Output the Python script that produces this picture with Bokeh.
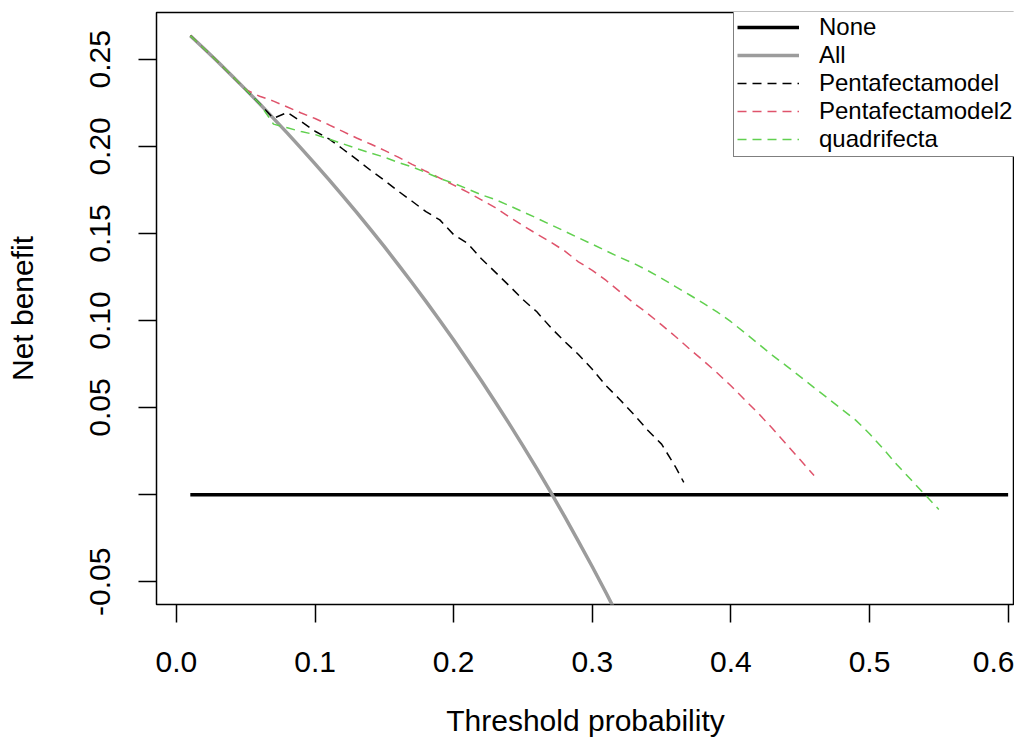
from bokeh.plotting import figure
from bokeh.models import Range1d, FixedTicker, Legend, LegendItem, PrintfTickFormatter
from bokeh.embed import file_html
from bokeh.resources import INLINE

# ---------------- data ----------------
none_t = [0.01, 0.60]
none_nb = [0.0, 0.0]

all_t = [0.01, 0.02, 0.03, 0.04, 0.05, 0.06, 0.07, 0.08, 0.09, 0.10,
         0.11, 0.12, 0.13, 0.14, 0.15, 0.16, 0.17, 0.18, 0.19, 0.20,
         0.21, 0.22, 0.23, 0.24, 0.25, 0.26, 0.27, 0.28, 0.29, 0.30,
         0.31, 0.32]
all_nb = [0.2636, 0.2561, 0.2485, 0.2406, 0.2326, 0.2245, 0.2161, 0.2076, 0.1989, 0.1900,
          0.1809, 0.1716, 0.1621, 0.1523, 0.1424, 0.1321, 0.1217, 0.1110, 0.1000, 0.0888,
          0.0772, 0.0654, 0.0532, 0.0408, 0.0280, 0.0149, 0.0014, -0.0125, -0.0268, -0.0414,
          -0.0565, -0.0721]

penta_t = [0.01, 0.02, 0.03, 0.04, 0.05, 0.06, 0.07, 0.08, 0.09, 0.10,
           0.11, 0.12, 0.13, 0.14, 0.15, 0.16, 0.17, 0.18, 0.19, 0.20,
           0.21, 0.22, 0.23, 0.24, 0.25, 0.26, 0.27, 0.28, 0.29, 0.30,
           0.31, 0.32, 0.33, 0.34, 0.35, 0.36, 0.366]
penta_nb = [0.2636, 0.2561, 0.2485, 0.2406, 0.2326, 0.2245, 0.2161, 0.2195, 0.2143, 0.2087,
            0.2043, 0.1985, 0.1925, 0.1863, 0.1805, 0.1743, 0.1685, 0.1625, 0.1578, 0.1493,
            0.1443, 0.1355, 0.1278, 0.1200, 0.1120, 0.1050, 0.0960, 0.0880, 0.0805, 0.0720,
            0.0625, 0.0545, 0.0460, 0.0370, 0.0290, 0.0160, 0.0070]

penta2_t = [0.01, 0.02, 0.03, 0.04, 0.05, 0.06, 0.07, 0.08, 0.09, 0.10,
            0.11, 0.12, 0.13, 0.14, 0.15, 0.16, 0.17, 0.18, 0.19, 0.20,
            0.21, 0.22, 0.23, 0.24, 0.25, 0.26, 0.27, 0.28, 0.29, 0.30,
            0.31, 0.32, 0.33, 0.34, 0.35, 0.36, 0.37, 0.38, 0.39, 0.40,
            0.41, 0.42, 0.43, 0.44, 0.45, 0.46]
penta2_nb = [0.2636, 0.2561, 0.2485, 0.2406, 0.2326, 0.2288, 0.2260, 0.2226, 0.2192, 0.2160,
             0.2124, 0.2086, 0.2048, 0.2014, 0.1977, 0.1938, 0.1897, 0.1857, 0.1818, 0.1778,
             0.1737, 0.1693, 0.1648, 0.1595, 0.1545, 0.1497, 0.1450, 0.1400, 0.1337, 0.1288,
             0.1230, 0.1165, 0.1100, 0.1040, 0.0975, 0.0908, 0.0838, 0.0770, 0.0700, 0.0625,
             0.0545, 0.0465, 0.0380, 0.0290, 0.0200, 0.0110]

quad_t = [0.01, 0.02, 0.03, 0.04, 0.05, 0.06, 0.07, 0.08, 0.09, 0.10,
          0.11, 0.12, 0.13, 0.14, 0.15, 0.16, 0.17, 0.18, 0.19, 0.20,
          0.21, 0.22, 0.23, 0.24, 0.25, 0.26, 0.27, 0.28, 0.29, 0.30,
          0.31, 0.32, 0.33, 0.34, 0.35, 0.36, 0.37, 0.38, 0.39, 0.40,
          0.41, 0.42, 0.43, 0.44, 0.45, 0.46, 0.47, 0.48, 0.49, 0.50,
          0.51, 0.52, 0.53, 0.54, 0.55]
quad_nb = [0.2636, 0.2561, 0.2485, 0.2406, 0.2326, 0.2245, 0.2128, 0.2107, 0.2085, 0.2068,
           0.2042, 0.2015, 0.1988, 0.1962, 0.1938, 0.1908, 0.1882, 0.1850, 0.1816, 0.1788,
           0.1756, 0.1722, 0.1695, 0.1660, 0.1624, 0.1588, 0.1550, 0.1513, 0.1475, 0.1438,
           0.1400, 0.1362, 0.1328, 0.1287, 0.1242, 0.1195, 0.1148, 0.1100, 0.1050, 0.0993,
           0.0930, 0.0865, 0.0800, 0.0740, 0.0678, 0.0615, 0.0553, 0.0490, 0.0428, 0.0350,
           0.0262, 0.0170, 0.0085, 0.0000, -0.0085]

x_ticks = [0.0, 0.1, 0.2, 0.3, 0.4, 0.5, 0.6]
y_ticks = [-0.05, 0.0, 0.05, 0.10, 0.15, 0.20, 0.25]

labels = ["None", "All", "Pentafectamodel", "Pentafectamodel2", "quadrifecta"]

# ---------------- figure ----------------
FONT = "Liberation Sans"
W, H = 1014, 739
BL, BT, BB = 156, 12, 134

p = figure(width=W, height=H, output_backend="svg", toolbar_location=None,
           x_range=Range1d(-0.0144, 0.6046), y_range=Range1d(-0.0631, 0.2769),
           min_border_left=BL, min_border_right=0, min_border_top=BT, min_border_bottom=BB,
           background_fill_color="white", border_fill_color="white")
p.grid.visible = False
p.outline_line_color = "black"
p.outline_line_width = 1.5

for ax in (p.xaxis[0], p.yaxis[0]):
    ax.axis_line_color = None
    ax.major_tick_line_color = "black"
    ax.major_tick_line_width = 1.5
    ax.major_tick_out = 18
    ax.major_tick_in = 0
    ax.minor_tick_line_color = None
    ax.major_label_text_font = FONT
    ax.major_label_text_font_size = "30px"
    ax.major_label_text_color = "black"
    ax.axis_label_text_font = FONT
    ax.axis_label_text_font_size = "30px"
    ax.axis_label_text_font_style = "normal"
    ax.axis_label_text_color = "black"

p.xaxis.ticker = FixedTicker(ticks=x_ticks)
p.xaxis.formatter = PrintfTickFormatter(format="%.1f")
p.xaxis.axis_label = "Threshold probability"
p.xaxis.major_label_standoff = 29
p.xaxis.axis_label_text_line_height = 0.75
p.xaxis.axis_label_standoff = 29

p.yaxis.ticker = FixedTicker(ticks=y_ticks)
p.yaxis.formatter = PrintfTickFormatter(format="%.2f")
p.yaxis.major_label_overrides = {0: ""}
p.yaxis.major_label_orientation = "parallel"
p.yaxis.major_label_standoff = 28
p.yaxis.axis_label = "Net benefit"
p.yaxis.axis_label_standoff = 49

r_none = p.line(none_t, none_nb, line_color="black", line_width=3.5)
r_all = p.line(all_t, all_nb, line_color="#9c9c9c", line_width=3.5)
r_p1 = p.line(penta_t, penta_nb, line_color="black", line_width=1.5, line_dash="9 6")
r_p2 = p.line(penta2_t, penta2_nb, line_color="#DF536B", line_width=1.5, line_dash="9 6")
r_q = p.line(quad_t, quad_nb, line_color="#61D04F", line_width=1.5, line_dash="9 6")

# legend: top edge on the frame top, left edge at x=733 px (right edge runs off the canvas)
LEG_PAD, ROW_H = 3, 28
leg_h = 2 * LEG_PAD + len(labels) * ROW_H
frame_h = H - BT - BB
legend = Legend(
    items=[LegendItem(label=lab, renderers=[r]) for lab, r in
           zip(labels, [r_none, r_all, r_p1, r_p2, r_q])],
    location=(733 - BL, frame_h - leg_h), margin=0, padding=LEG_PAD, spacing=0,
    label_height=ROW_H, glyph_width=62, glyph_height=ROW_H, label_standoff=20,
    label_text_font=FONT, label_text_font_size="24px", label_text_color="black",
    border_line_color="black", border_line_width=1.5,
    background_fill_color="white", background_fill_alpha=1.0,
)
p.add_layout(legend)

open("out.html", "w").write(file_html(p, INLINE))
